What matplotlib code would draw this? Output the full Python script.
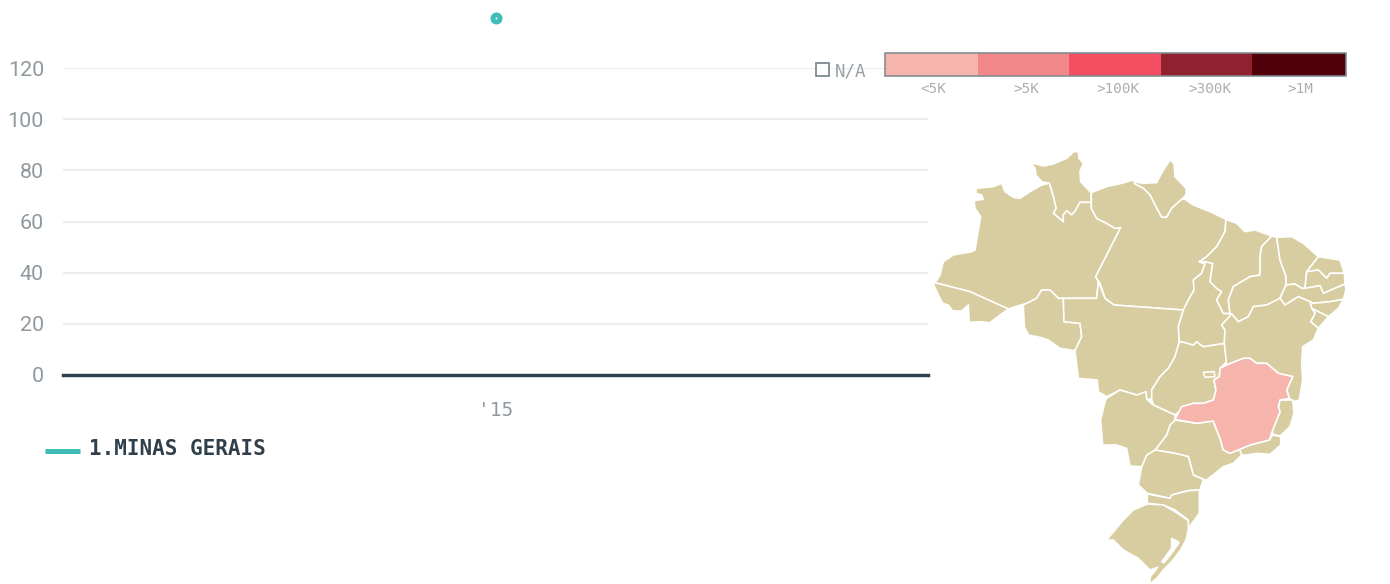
import matplotlib
matplotlib.use("Agg")
import matplotlib.pyplot as plt
from matplotlib.patches import Rectangle

# ---- chart data ----
years = [2015]
year_labels = ["'15"]
minas_gerais = [139.5]
y_ticks = [0, 20, 40, 60, 80, 100, 120]
series_name = "1.MINAS GERAIS"
legend_labels = ["<5K", ">5K", ">100K", ">300K", ">1M"]
legend_colors = ["#f5b5ad", "#f3888a", "#f25062", "#92212f", "#4f0008"]
highlighted_state = "MG"
highlighted_class = 0

# ---- map outlines (traced, northern frame) ----
north = {
 "RR": [(303,68),(340,78),(370,72),(410,55),(432,35),(445,35),(447,55),(460,70),(450,95),(452,125),(483,158),(484,187),(450,187),(436,212),(425,225),(410,212),(400,225),(400,245),(370,220),(378,205),(370,170),(358,130),(335,125),(318,105),(315,85)],
 "AP": [(612,125),(640,130),(680,128),(700,90),(720,60),(732,70),(735,110),(768,145),(768,165),(755,178),(725,205),(710,232),(695,232),(680,205),(660,165),(640,145),(615,132)],
 "AM": [(138,145),(190,140),(215,130),(225,155),(250,172),(270,175),(300,155),(335,135),(358,130),(370,170),(378,205),(370,220),(400,245),(400,225),(410,212),(425,225),(436,212),(450,187),(484,187),(484,205),(500,235),(530,250),(555,265),(572,263),(497,410),(505,425),(500,475),(400,475),(385,475),(360,450),(335,450),(320,475),(290,490),(265,497),(235,507),(120,455),(15,428),(30,405),(40,365),(70,345),(125,335),(135,330),(152,230),(135,205),(132,182),(160,178),(155,165),(138,160)],
 "AC": [(10,432),(15,428),(120,455),(235,507),(210,525),(180,548),(150,545),(118,547),(115,495),(95,513),(68,513),(55,495),(38,490),(25,465)],
 "RO": [(280,495),(290,490),(320,475),(335,450),(360,450),(385,475),(400,475),(402,545),(450,550),(455,590),(435,632),(390,625),(355,600),(330,592),(295,585),(283,560)],
 "PA": [(484,158),(530,140),(575,130),(610,120),(612,125),(615,132),(640,145),(660,165),(680,205),(695,232),(710,232),(725,205),(755,178),(765,178),(790,195),(840,215),(888,238),(885,275),(860,320),(830,350),(808,365),(825,372),(815,400),(790,420),(792,450),(775,480),(760,510),(552,495),(525,475),(510,430),(497,410),(572,263),(555,265),(530,250),(500,235),(484,205),(484,187)],
 "MT": [(400,475),(500,475),(505,425),(525,475),(552,495),(760,510),(745,560),(748,605),(735,650),(715,685),(690,710),(665,750),(665,778),(650,778),(648,755),(640,765),(620,765),(570,750),(530,770),(505,755),(502,720),(445,715),(435,632),(455,590),(450,550),(402,545)],
 "GO": [(755,605),(790,615),(800,605),(820,620),(850,615),(883,610),(890,665),(870,685),(868,710),(852,720),(858,750),(850,780),(820,790),(790,790),(765,800),(735,825),(670,795),(665,778),(665,750),(690,710),(715,685),(735,650),(748,605)],
 "DF": [(820,697),(852,695),(855,710),(825,712)],
 "TO": [(808,365),(825,372),(815,400),(790,420),(792,450),(775,480),(760,510),(745,560),(748,605),(755,605),(790,615),(800,605),(820,620),(850,615),(883,610),(885,570),(875,555),(905,522),(880,520),(860,480),(875,455),(860,445),(840,425),(848,370),(825,365)],
 "MA": [(888,238),(920,250),(945,275),(975,270),(1025,288),(995,320),(990,350),(990,405),(960,410),(910,440),(895,480),(900,520),(880,520),(860,480),(875,455),(860,445),(840,425),(848,370),(825,365),(808,365),(830,350),(860,320),(885,275)],
 "PI": [(1040,292),(1025,288),(995,320),(990,350),(990,405),(960,410),(910,440),(895,480),(900,520),(905,522),(925,545),(955,530),(970,500),(1010,495),(1050,475),(1068,435),(1068,410),(1050,360)],
 "CE": [(1040,292),(1085,290),(1120,310),(1165,350),(1130,395),(1125,445),(1115,445),(1095,432),(1068,435),(1068,410),(1050,360)],
 "RN": [(1165,350),(1230,360),(1243,400),(1200,400),(1190,415),(1165,390),(1130,395)],
 "PB": [(1130,395),(1165,390),(1190,415),(1200,400),(1243,400),(1245,432),(1180,460),(1170,437),(1125,445)],
 "PE": [(1068,435),(1095,432),(1115,445),(1125,445),(1170,437),(1180,460),(1245,432),(1248,450),(1240,478),(1200,485),(1150,490),(1140,485),(1105,470),(1065,495),(1050,475)],
 "AL": [(1140,485),(1150,490),(1200,485),(1240,478),(1225,505),(1195,530),(1145,505)],
 "SE": [(1145,505),(1195,530),(1165,565),(1142,545),(1155,520)],
 "BA": [(905,522),(925,545),(955,530),(970,500),(1010,495),(1050,475),(1065,495),(1105,470),(1140,485),(1145,505),(1155,520),(1142,545),(1165,565),(1150,600),(1118,620),(1115,670),(1118,720),(1108,780),(1090,785),(1078,775),(1070,750),(1088,710),(1045,700),(1010,670),(980,670),(960,655),(940,655),(890,675),(883,610),(885,570),(875,555)],
}
# southern outlines (traced, southern frame)
south = {
 "ES": [(665,180),(698,180),(702,220),(690,260),(660,288),(638,282),(638,270),(660,215),(655,200),(660,180)],
 "RJ": [(538,328),(570,315),(628,300),(638,285),(662,290),(662,315),(630,343),(590,340),(560,345),(545,345)],
 "SP": [(345,240),(410,250),(460,243),(468,265),(480,295),(490,330),(510,340),(538,328),(545,345),(520,370),(490,380),(440,420),(430,418),(400,405),(385,350),(345,340),(285,330),(320,285),(330,255)],
 "PR": [(285,330),(345,340),(385,350),(400,405),(430,418),(420,450),(385,452),(360,458),(335,465),(330,475),(262,460),(235,435),(245,380),(260,345)],
 "MS": [(140,175),(180,150),(230,165),(258,155),(260,178),(280,195),(345,225),(345,240),(330,255),(320,285),(285,330),(260,345),(245,380),(210,378),(200,325),(170,315),(128,315),(122,240),(135,185)],
 "SC": [(262,462),(330,475),(335,465),(385,452),(418,450),(418,520),(385,565),(385,540),(345,510),(310,495),(262,490)],
 "RS": [(262,492),(310,495),(345,515),(385,542),(385,570),(378,600),(362,630),(335,665),(310,690),(290,715),(270,732),(270,712),(293,682),(270,690),(235,655),(190,630),(160,600),(140,600),(190,540),(220,510)],
 "MG": [(570,55),(590,70),(620,70),(655,100),(698,110),(680,150),(688,175),(660,180),(655,200),(660,215),(638,270),(628,300),(570,315),(510,340),(490,330),(480,295),(468,265),(460,243),(410,250),(345,238),(365,200),(400,190),(430,190),(460,180),(468,150),(462,120),(478,110),(480,85),(500,75),(550,55)],
}
lagoon = [(335,595),(350,603),(357,608),(335,640),(312,668),(305,665),(335,625)]
south_offset = (390, 600)

W, H = 1390, 584
DIM = "#8f999f"
DARK = "#2f3f4b"
TEAL = "#3dbcb8"
LAND = "#d8cda0"
GRID = "#eceef0"
SANS = "Roboto"
MONO = "DejaVu Sans Mono"
px = 72 / 100

fig = plt.figure(figsize=(W / 100, H / 100), dpi=100, facecolor="white")

def box(l, t, r, b):
    return [l / W, 1 - b / H, (r - l) / W, (b - t) / H]

# ---- line chart ----
ax = fig.add_axes(box(63, 68, 928, 375))
ax.set_xlim(years[0] - 0.5, years[0] + 0.5)
ax.set_ylim(0, y_ticks[-1])
for s in ax.spines.values():
    s.set_visible(False)
ax.set_yticks(y_ticks)
ax.set_yticklabels([str(v) for v in y_ticks], family=SANS, fontsize=21.5 * px, color=DIM)
ax.set_xticks(years)
ax.set_xticklabels(year_labels, family=MONO, fontsize=19.5 * px, color=DIM)
ax.tick_params(axis="y", length=0, pad=19 * px)
ax.tick_params(axis="x", length=0, pad=26 * px)
ax.grid(axis="y", color=GRID, lw=2.2 * px, zorder=0)
ax.axhline(0, color=DARK, lw=3.4 * px, zorder=2, clip_on=False)
ax.plot(years, minas_gerais, "o", ms=12 * px, color=TEAL, mew=0, clip_on=False, zorder=3)
ax.plot(years, minas_gerais, "o", ms=2 * px, color="white", mew=0, clip_on=False, zorder=4)

# ---- overlay in figure pixels: legends ----
ov = fig.add_axes([0, 0, 1, 1], zorder=3)
ov.set_xlim(0, W)
ov.set_ylim(H, 0)
ov.axis("off")
ov.patch.set_alpha(0)
ov.plot([45, 80], [451, 451], color=TEAL, lw=5 * px, solid_capstyle="butt")
ov.text(89, 449, series_name, family=MONO, weight="bold", fontsize=20.9 * px, color=DARK, va="center")

ov.add_patch(Rectangle((815.5, 63), 13, 13, fc="white", ec="#7f8a91", lw=1.8 * px))
ov.text(835, 71, "N/A", family=MONO, fontsize=17.5 * px, color="#9aa2a7", va="center")

edges = [885, 978, 1069, 1161, 1252, 1345.5]
for i, (lab, col) in enumerate(zip(legend_labels, legend_colors)):
    ov.add_patch(Rectangle((edges[i], 53), edges[i + 1] - edges[i], 23, fc=col, ec="none"))
    ov.text(edges[i] + 48.5, 89, lab, family=MONO, fontsize=14.3 * px, color="#a9afb3", ha="center", va="center")
ov.add_patch(Rectangle((885, 53), 460.5, 23, fc="none", ec="#7f8a91", lw=1.6 * px))

# ---- map ----
mp = fig.add_axes(box(930, 140, 1360, 584), zorder=2)
mp.set_xlim(0, 1290)
mp.set_ylim(1332, 0)
mp.axis("off")
mp.patch.set_alpha(0)

def draw(points, color, z=2, off=(0, 0)):
    xs = [p[0] + off[0] for p in points]
    ys = [p[1] + off[1] for p in points]
    mp.fill(xs, ys, fc=color, ec="white", lw=1.6 * px, joinstyle="round", zorder=z)

for name, pts in north.items():
    draw(pts, LAND, 3 if name == "DF" else 2)
for name, pts in south.items():
    if name == highlighted_state:
        draw(pts, legend_colors[highlighted_class], 4, south_offset)
    else:
        draw(pts, LAND, 2, south_offset)
draw(lagoon, "white", 3, south_offset)

fig.savefig("out.png", dpi=100, facecolor="white")
